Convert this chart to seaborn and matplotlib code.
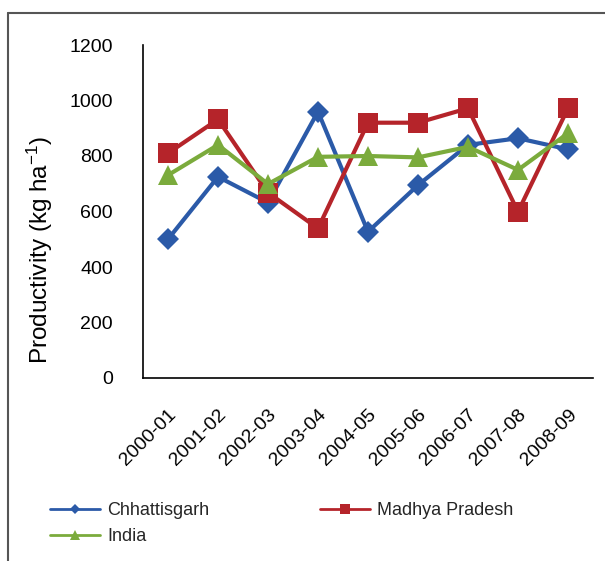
import matplotlib
matplotlib.use("Agg")
import matplotlib.pyplot as plt
import seaborn as sns
import pandas as pd
from matplotlib.lines import Line2D

years = ["2000-01", "2001-02", "2002-03", "2003-04", "2004-05",
         "2005-06", "2006-07", "2007-08", "2008-09"]
chhattisgarh = [500, 725, 632, 960, 527, 695, 840, 864, 824]
madhya_pradesh = [810, 932, 668, 539, 920, 920, 972, 599, 972]
india = [731, 840, 699, 797, 800, 795, 833, 750, 882]

series_names = ["Chhattisgarh", "Madhya Pradesh", "India"]
series_vals = [chhattisgarh, madhya_pradesh, india]
colors = {"Chhattisgarh": "#2b5aa8", "Madhya Pradesh": "#b5242a", "India": "#7bab3c"}
markers = {"Chhattisgarh": "D", "Madhya Pradesh": "s", "India": "^"}
msizes = {"Chhattisgarh": 11, "Madhya Pradesh": 14, "India": 14}

rows = []
for name, vals in zip(series_names, series_vals):
    for y, v in zip(years, vals):
        rows.append({"Year": y, "Productivity": v, "Series": name})
df = pd.DataFrame(rows)

sns.set_theme(style="white")
plt.rcParams["font.family"] = ["Liberation Sans", "DejaVu Sans"]
plt.rcParams["mathtext.fontset"] = "custom"
plt.rcParams["mathtext.rm"] = "Liberation Sans"
plt.rcParams["mathtext.it"] = "Liberation Sans"

fig = plt.figure(figsize=(6.05, 5.61), dpi=100)
ax = fig.add_axes([143/605, 1-378/561, (593-143)/605, (378-45)/561])

for name in series_names:
    sub = df[df["Series"] == name]
    sns.lineplot(data=sub, x="Year", y="Productivity", ax=ax, color=colors[name],
                 marker=markers[name], markersize=msizes[name], linewidth=3,
                 markeredgewidth=0, sort=False, legend=False)

ax.set_xlim(-0.5, len(years) - 0.5)
ax.set_ylim(0, 1200)
ax.set_yticks([0, 200, 400, 600, 800, 1000, 1200])
ax.tick_params(axis="both", length=0, labelsize=14, colors="black")
ax.tick_params(axis="y", pad=21.6)
ax.tick_params(axis="x", pad=20)
for lbl in ax.get_xticklabels():
    lbl.set_rotation(45)
    lbl.set_ha("right")
    lbl.set_rotation_mode("anchor")
ax.set_xlabel("")
ax.set_ylabel("Productivity (kg ha$^{-1}$)", fontsize=17.5, color="black")
ax.yaxis.set_label_coords(-0.195, 0.384)
for s in ["top", "right"]:
    ax.spines[s].set_visible(False)
for s in ["left", "bottom"]:
    ax.spines[s].set_color("black")
    ax.spines[s].set_linewidth(1.2)
ax.grid(False)

order = ["Chhattisgarh", "India", "Madhya Pradesh"]
handles = [Line2D([0], [0], color=colors[n], marker=markers[n], markersize=msizes[n]*0.5,
                  linewidth=2, markeredgewidth=0) for n in order]
fig.legend(handles, order, loc="upper left", bbox_to_anchor=(50/605, 1-502/561),
           ncol=2, frameon=False, fontsize=13, handlelength=2.78, handletextpad=0.4,
           columnspacing=6.1, labelspacing=0.5, borderpad=0, borderaxespad=0)

# outer frame (left and top edges visible)
fig.add_artist(Line2D([8/605, 8/605], [0, 1-13/561], transform=fig.transFigure,
                      color="#555555", linewidth=1.5))
fig.add_artist(Line2D([8/605, 1], [1-13/561, 1-13/561], transform=fig.transFigure,
                      color="#555555", linewidth=1.5))

fig.savefig("out.png", dpi=100)
